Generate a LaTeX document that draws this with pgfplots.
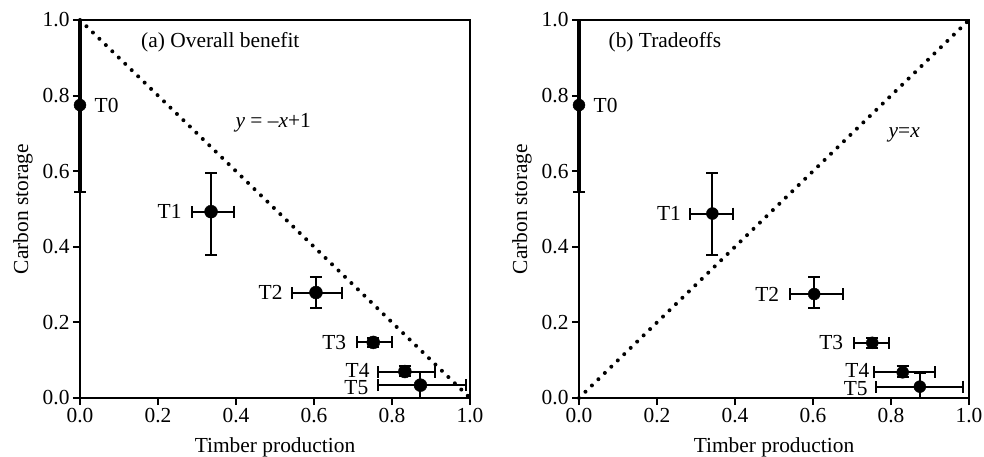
\documentclass[border=0pt]{standalone}
\usepackage{fontspec}
\setmainfont{Liberation Serif}
\usepackage{pgfplots}
\pgfplotsset{compat=1.18}

\newcommand\ff{\fontsize{21.5}{25}\selectfont}
\tikzset{lab/.style={inner sep=0.5bp}}

\pgfplotsset{
  panel/.style={
    width=390bp, height=378bp, scale only axis,
    xmin=0, xmax=1, ymin=0, ymax=1,
    xtick={0,0.2,0.4,0.6,0.8,1.0}, ytick={0,0.2,0.4,0.6,0.8,1.0},
    xtick pos=bottom, ytick pos=left, tick align=outside,
    major tick length=7bp,
    axis line style={line width=1.9bp},
    tick style={line width=1.9bp, black},
    tick label style={font=\ff, /pgf/number format/fixed, /pgf/number format/fixed zerofill,
      /pgf/number format/precision=1, /pgf/number format/assume math mode=true},
    label style={font=\ff},
    font=\ff,
    clip=false,
    xlabel={Timber production}, ylabel={Carbon storage},
    xlabel style={at={(axis description cs:0.5,-0.1455)}, anchor=base},
    ylabel style={at={(axis description cs:-0.133,0.5)}, anchor=base},
  },
  pts/.style={only marks, mark=*, black, mark size=#1,
    error bars/.cd, x dir=both, x explicit, y dir=both, y explicit,
    error bar style={line width=2bp, black},
    error mark options={rotate=90, mark size=6bp, line width=2bp, black}},
  t0/.style={only marks, mark=*, black, mark size=6bp,
    error bars/.cd, y dir=both, y explicit,
    error bar style={line width=4.8bp, black},
    error mark options={rotate=90, mark size=6bp, line width=2bp, black}},
  dots/.style={black, line width=4bp, line cap=round, dash pattern=on 0bp off 9bp},
}

\begin{document}
\begin{tikzpicture}[font=\ff]
\path[use as bounding box] (-80bp,-59bp) rectangle (904bp,398bp);

% (a) overall benefit
\begin{axis}[panel, at={(0,0)}, anchor=south west]
\addplot[dots] coordinates {(0,1) (1,0)};
\addplot[t0] coordinates {(0,0.775) += (0,0.225) -= (0,0.23)};
\addplot[pts=6.5bp] coordinates {
  (0.336,0.493) += (0.059,0.103) -= (0.049,0.115)
  (0.605,0.279) += (0.067,0.040) -= (0.062,0.040)
  (0.752,0.147) += (0.047,0.013) -= (0.041,0.013)
  (0.833,0.070) += (0.077,0.015) -= (0.070,0.012)
  (0.873,0.034) += (0.116,0.034) -= (0.110,0.034)
};
\node[anchor=west] at (axis cs:0.148,0.942) {(a) Overall benefit};
\node[anchor=west] at (axis cs:0.39,0.728) {\textit{y} = –\textit{x}+1};
\node[lab, anchor=west] at (axis cs:0.036,0.775) {T0};
\node[lab, anchor=east] at (axis cs:0.262,0.493) {T1};
\node[lab, anchor=east] at (axis cs:0.521,0.279) {T2};
\node[lab, anchor=east] at (axis cs:0.684,0.147) {T3};
\node[lab, anchor=east] at (axis cs:0.744,0.074) {T4};
\node[lab, anchor=east] at (axis cs:0.741,0.027) {T5};
\end{axis}

% (b) tradeoffs
\begin{axis}[panel, at={(499bp,0)}, anchor=south west]
\addplot[dots] coordinates {(0,0) (1,1)};
\addplot[t0] coordinates {(0,0.775) += (0,0.225) -= (0,0.23)};
\addplot[pts=6bp] coordinates {
  (0.342,0.488) += (0.052,0.108) -= (0.057,0.110)
  (0.603,0.275) += (0.073,0.044) -= (0.062,0.038)
  (0.752,0.146) += (0.044,0.013) -= (0.047,0.013)
  (0.830,0.068) += (0.083,0.017) -= (0.073,0.013)
  (0.874,0.030) += (0.111,0.037) -= (0.112,0.030)
};
\node[anchor=west] at (axis cs:0.067,0.942) {(b) Tradeoffs};
\node[anchor=west] at (axis cs:0.785,0.695) {\textit{y}=\textit{x}};
\node[lab, anchor=west] at (axis cs:0.036,0.775) {T0};
\node[lab, anchor=east] at (axis cs:0.263,0.488) {T1};
\node[lab, anchor=east] at (axis cs:0.515,0.275) {T2};
\node[lab, anchor=east] at (axis cs:0.679,0.146) {T3};
\node[lab, anchor=east] at (axis cs:0.746,0.073) {T4};
\node[lab, anchor=east] at (axis cs:0.742,0.026) {T5};
\end{axis}
\end{tikzpicture}
\end{document}
